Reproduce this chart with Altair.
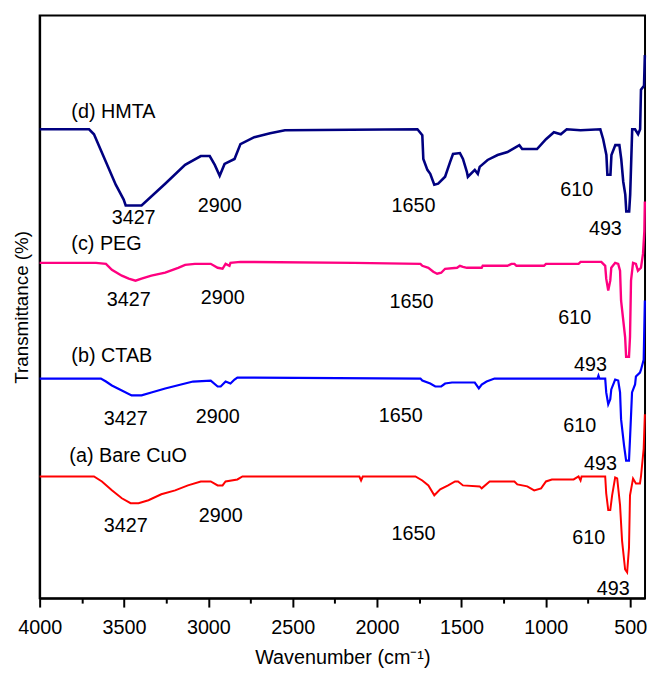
import altair as alt
import pandas as pd

FONT = "Liberation Sans"

# ---- spectra: wavenumber (cm-1) and offset transmittance (a.u.) ----
hmta_wn = [4000, 3707, 3678, 3607, 3549, 3502, 3490, 3396, 3256, 3138, 3045, 2992, 2962, 2933, 2904,
           2845, 2810, 2728, 2634, 2546, 1761, 1732, 1726, 1702, 1685, 1661, 1638, 1597, 1567, 1550,
           1509, 1491, 1468, 1462, 1421, 1403, 1392, 1345, 1286, 1227, 1157, 1140, 1052, 999, 952,
           911, 876, 794, 677, 660, 641, 635, 617, 611, 588, 564, 553, 541, 529, 523, 506, 500, 488,
           471, 453, 441, 436, 418, 413]
hmta_t = [474, 474, 469, 441, 418, 403, 397, 397, 419, 438, 447, 447, 438, 427, 439,
          444, 459, 466, 470, 473, 474, 468, 444, 433, 429, 418, 419, 426, 441, 449,
          450, 444, 431, 426, 433, 429, 436, 443, 448, 451, 458, 454, 454, 464, 471,
          469, 474, 473, 474, 464, 448, 428, 428, 448, 458, 458, 444, 421, 408, 391, 391, 408, 474,
          474, 469, 474, 514, 518, 549]

peg_wn = [4000, 3666, 3607, 3572, 3513, 3472, 3432, 3396, 3338, 3256, 3179, 3138, 3080, 2986, 2945,
          2916, 2898, 2875, 2869, 2810, 2136, 1743, 1732, 1696, 1667, 1644, 1620, 1597, 1526, 1509,
          1491, 1468, 1380, 1374, 1227, 1204, 1186, 1174, 1011, 999, 806, 794, 671, 648, 642, 630,
          618, 612, 589, 571, 560, 554, 530, 524, 507, 501, 495, 483, 466, 454, 436, 424, 416, 413]
peg_t = [339, 339, 338, 332, 326, 323, 321, 323, 326, 329, 334, 337, 338, 338, 334,
         333, 338, 336, 339, 340, 339, 338, 336, 334, 330, 328, 329, 333, 334, 336,
         335, 334, 334, 336, 336, 338, 338, 336, 336, 338, 338, 340, 340, 336, 323, 311,
         321, 334, 339, 338, 331, 301, 264, 244, 244, 264, 321, 339, 338, 331, 334, 348, 371, 401]

ctab_wn = [4000, 3637, 3607, 3572, 3513, 3455, 3396, 3338, 3256, 3162, 3091, 2986, 2945, 2927, 2898,
           2869, 2845, 2828, 1743, 1732, 1685, 1655, 1620, 1597, 1556, 1421, 1397, 1380, 1351, 1304,
           694, 688, 682, 648, 642, 630, 618, 612, 589, 571, 560, 554, 536, 524, 507, 501, 489, 471,
           466, 442, 436, 420, 413]
ctab_t = [222, 222, 219, 215, 210, 205, 205, 208, 212, 216, 219, 220, 214, 214, 219,
          217, 221, 223, 222, 220, 217, 214, 214, 217, 218, 218, 212, 216, 219, 222,
          222, 225, 222, 222, 208, 196, 201, 211, 221, 220, 208, 181, 154, 139, 139, 161, 208, 216,
          224, 228, 231, 241, 301]

bare_wn = [4000, 3678, 3631, 3572, 3513, 3461, 3414, 3355, 3279, 3197, 3121, 3045, 2986, 2945, 2916,
           2898, 2828, 2798, 2105, 2095, 2085, 1773, 1732, 1696, 1661, 1626, 1579, 1538, 1520, 1491,
           1392, 1380, 1333, 1186, 1169, 1110, 1069, 1028, 999, 964, 835, 806, 794, 788, 648, 642,
           630, 618, 607, 589, 577, 560, 548, 530, 518, 507, 501, 483, 466, 442, 436, 420, 413]
bare_t = [123, 123, 118, 109, 101, 96, 96, 99, 105, 109, 114, 118, 118, 114, 114,
          118, 120, 123, 123, 119, 123, 123, 119, 114, 104, 110, 114, 118, 118, 114,
          113, 111, 118, 118, 115, 113, 109, 111, 118, 120, 120, 123, 119, 123, 123, 106,
          89, 89, 104, 122, 121, 94, 58, 29, 26, 51, 104, 121, 116, 116, 123, 151, 186]

samples = ["(d) HMTA", "(c) PEG", "(b) CTAB", "(a) Bare CuO"]
colors = ["#000080", "#ff0080", "#0000ff", "#ff0000"]
widths = [2.6, 2, 2, 2]

# ---- annotations ----
name_wn = [3812, 3812, 3812, 3824]
name_t = [491, 358, 245, 144]

peak_text = ["3427", "2900", "1650", "610", "493"] * 4
peak_wn = [3443, 2933, 1784, 817, 647,
           3472, 2915, 1796, 829, 735,
           3490, 2945, 1860, 799, 676,
           3490, 2927, 1784, 746, 600]
peak_t = [384, 396, 396, 413, 373,
          301, 303, 299, 283, 236,
          181, 183, 184, 174, 136,
          73, 83, 65, 61, 9]

x_ticks = [4000, 3750, 3500, 3250, 3000, 2750, 2500, 2250, 2000, 1750, 1500, 1250, 1000, 750, 500]

rows = []
for s, wn, tt in zip(samples, [hmta_wn, peg_wn, ctab_wn, bare_wn], [hmta_t, peg_t, ctab_t, bare_t]):
    for i, (w, v) in enumerate(zip(wn, tt)):
        rows.append({"sample": s, "wn": w, "T": v, "idx": i})
df = pd.DataFrame(rows)

names_df = pd.DataFrame({"label": samples, "wn": name_wn, "T": name_t})
peaks_df = pd.DataFrame({"label": peak_text, "wn": peak_wn, "T": peak_t})

x_scale = alt.Scale(domain=[412, 4000], reverse=True, nice=False, zero=False)
y_scale = alt.Scale(domain=[0, 589], nice=False, zero=False)

x_axis = alt.Axis(
    title="Wavenumber (cm⁻¹)",
    values=x_ticks,
    labelExpr="datum.value % 500 === 0 ? datum.label : ''",
    format="d",
    tickSize={"condition": {"test": "datum.value % 500 === 0", "value": 9}, "value": 5},
    tickWidth=2, tickColor="black", domainColor="black", domainWidth=2,
    labelFontSize=20, titleFontSize=20, labelFont=FONT, titleFont=FONT,
    labelColor="black", titleColor="black", titleFontWeight="normal",
    labelPadding=11, titlePadding=10, grid=False, labelFlush=False, labelOverlap=False,
)
y_axis = alt.Axis(
    title="Transmittance (%)", labels=False, ticks=False, grid=False,
    domainColor="black", domainWidth=2, titleFontSize=19, titleFont=FONT,
    titleColor="black", titleFontWeight="normal", titlePadding=8,
)

lines = alt.Chart(df).mark_line(interpolate="linear", strokeJoin="miter").encode(
    x=alt.X("wn:Q", scale=x_scale, axis=x_axis),
    y=alt.Y("T:Q", scale=y_scale, axis=y_axis),
    color=alt.Color("sample:N", scale=alt.Scale(domain=samples, range=colors), legend=None),
    strokeWidth=alt.StrokeWidth("sample:N", scale=alt.Scale(domain=samples, range=widths), legend=None),
    order=alt.Order("idx:Q"),
)

names = alt.Chart(names_df).mark_text(align="left", baseline="middle", fontSize=20, font=FONT, color="black").encode(
    x=alt.X("wn:Q", scale=x_scale), y=alt.Y("T:Q", scale=y_scale), text="label:N")

peaks = alt.Chart(peaks_df).mark_text(align="center", baseline="middle", fontSize=20, font=FONT, color="black").encode(
    x=alt.X("wn:Q", scale=x_scale), y=alt.Y("T:Q", scale=y_scale), text="label:N")

chart = alt.layer(lines, names, peaks).properties(
    width=612, height=589,
    padding={"left": 32, "top": 4, "right": 2, "bottom": 70},
    autosize=alt.AutoSizeParams(type="none"),
    background="white",
).configure_view(stroke="black", strokeWidth=2)

chart.save("out.html", embed_options={"renderer": "svg", "actions": False})
